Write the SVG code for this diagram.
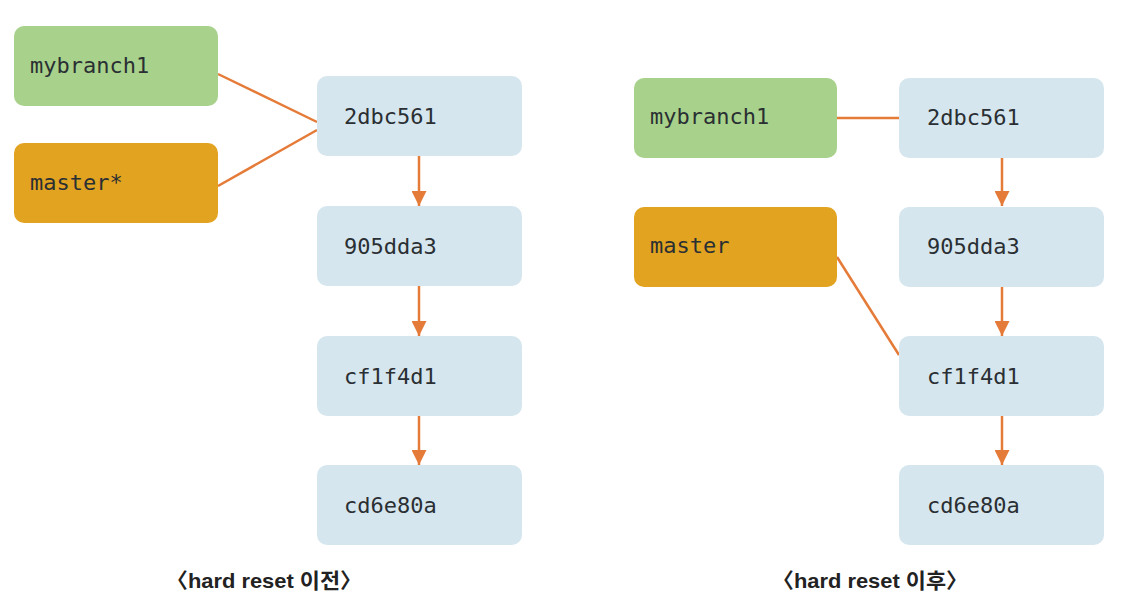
<svg xmlns="http://www.w3.org/2000/svg" width="1125" height="612" viewBox="0 0 1125 612">
<style>
.commit{fill:#d6e6ee}
.branch{fill:#a8d28b}
.master{fill:#e2a321}
.lbl{font-family:"DejaVu Sans Mono","Liberation Mono",monospace;font-size:22px;fill:#2a2f33}
.cap{font-family:"Liberation Sans","Noto Sans CJK KR",sans-serif;font-size:21px;font-weight:bold;fill:#222}
.con{stroke:#e57b38;stroke-width:2.5;fill:none}
.arr{stroke:#e57b38;stroke-width:2.5;fill:none;marker-end:url(#ah)}
</style>
<defs>
<marker id="ah" viewBox="0 0 10 10" refX="10" refY="5" markerWidth="6" markerHeight="6" markerUnits="strokeWidth" orient="auto">
<path d="M0,0 L10,5 L0,10 z" fill="#e57b38"/>
</marker>
</defs>
<rect width="1125" height="612" fill="#ffffff"/>
<g id="connectors">
<line class="con" x1="218" y1="74" x2="317" y2="122"/>
<line class="con" x1="218" y1="186" x2="317" y2="130"/>
<line class="arr" x1="419" y1="156" x2="419" y2="206"/>
<line class="arr" x1="419" y1="286" x2="419" y2="336"/>
<line class="arr" x1="419" y1="416" x2="419" y2="465"/>
<line class="con" x1="837" y1="118" x2="899" y2="118"/>
<line class="con" x1="837" y1="257" x2="899" y2="355"/>
<line class="arr" x1="1002" y1="157" x2="1002" y2="206"/>
<line class="arr" x1="1002" y1="286" x2="1002" y2="336"/>
<line class="arr" x1="1002" y1="416" x2="1002" y2="465"/>
</g>
<g id="l-mybranch1"><rect class="branch" x="14" y="26" width="204" height="80" rx="10"/><text class="lbl" x="30" y="73">mybranch1</text></g>
<g id="l-master"><rect class="master" x="14" y="143" width="204" height="80" rx="10"/><text class="lbl" x="30" y="190">master*</text></g>
<g id="l-c1"><rect class="commit" x="317" y="76" width="205" height="80" rx="10"/><text class="lbl" x="344" y="124">2dbc561</text></g>
<g id="l-c2"><rect class="commit" x="317" y="206" width="205" height="80" rx="10"/><text class="lbl" x="344" y="254">905dda3</text></g>
<g id="l-c3"><rect class="commit" x="317" y="336" width="205" height="80" rx="10"/><text class="lbl" x="344" y="384">cf1f4d1</text></g>
<g id="l-c4"><rect class="commit" x="317" y="465" width="205" height="80" rx="10"/><text class="lbl" x="344" y="513">cd6e80a</text></g>
<g id="r-mybranch1"><rect class="branch" x="634" y="78" width="203" height="80" rx="10"/><text class="lbl" x="650" y="124">mybranch1</text></g>
<g id="r-master"><rect class="master" x="634" y="207" width="203" height="80" rx="10"/><text class="lbl" x="650" y="253">master</text></g>
<g id="r-c1"><rect class="commit" x="899" y="78" width="205" height="80" rx="10"/><text class="lbl" x="927" y="125">2dbc561</text></g>
<g id="r-c2"><rect class="commit" x="899" y="207" width="205" height="80" rx="10"/><text class="lbl" x="927" y="254">905dda3</text></g>
<g id="r-c3"><rect class="commit" x="899" y="336" width="205" height="80" rx="10"/><text class="lbl" x="927" y="384">cf1f4d1</text></g>
<g id="r-c4"><rect class="commit" x="899" y="465" width="205" height="80" rx="10"/><text class="lbl" x="927" y="513">cd6e80a</text></g>
<g id="captions">
<text class="cap" x="166" y="588" textLength="196" lengthAdjust="spacingAndGlyphs">〈hard reset 이전〉</text>
<text class="cap" x="772" y="588" textLength="196" lengthAdjust="spacingAndGlyphs">〈hard reset 이후〉</text>
</g>
</svg>
